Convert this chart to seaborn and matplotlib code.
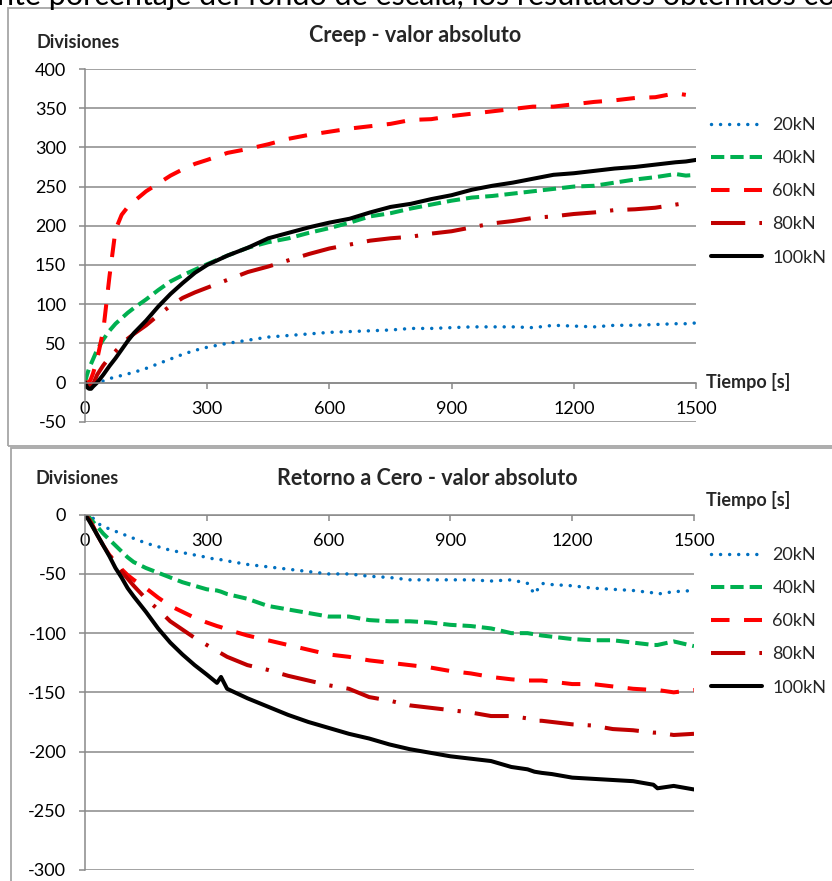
import numpy as np
import pandas as pd
import matplotlib
matplotlib.use("Agg")
import matplotlib.pyplot as plt
import matplotlib.patches as patches
import seaborn as sns

sns.set_style("white")
plt.rcParams['font.family'] = ['Lato', 'DejaVu Sans']

# ---------------- data ----------------
labels = ["20kN", "40kN", "60kN", "80kN", "100kN"]
colors = ["#0070C0", "#00B050", "#FF0000", "#C00000", "#000000"]

t_creep = [0, 5, 10, 15, 20, 30, 45, 60, 75, 90, 105, 120, 150, 180, 210, 240, 270, 300,
           350, 400, 450, 500, 550, 600, 650, 700, 750, 800, 850, 900, 950, 1000, 1050,
           1100, 1150, 1200, 1250, 1300, 1350, 1400, 1450, 1475, 1500]
creep_20 = [0, 0, 0, 0, 0, 1, 2, 5, 7, 9, 11, 13, 18, 24, 30, 36, 41, 45,
            50, 54, 58, 60, 62, 64, 65, 66, 67, 69, 69, 70, 71, 71, 71,
            70, 73, 72, 71, 73, 73, 74, 75, 75, 76]
creep_40 = [0, 10, 18, 24, 30, 42, 55, 66, 75, 82, 89, 95, 106, 118, 129, 137, 144, 151,
            162, 172, 179, 184, 191, 197, 204, 212, 216, 222, 227, 232, 236, 238, 241,
            244, 247, 250, 251, 255, 259, 262, 266, 264, 265]
creep_60 = [0, 0, 0, 5, 12, 30, 67, 135, 195, 214, 224, 231, 244, 254, 264, 272, 279, 284,
            293, 298, 304, 311, 316, 320, 324, 327, 330, 335, 336, 340, 343, 346, 349,
            352, 352, 355, 358, 360, 363, 364, 369, 367, np.nan]
creep_80 = [0, -2, -3, -3, -2, 10, 22, 32, 40, 48, 56, 62, 73, 86, 98, 108, 115, 121,
            131, 141, 148, 156, 164, 171, 176, 181, 184, 186, 190, 193, 198, 203, 206,
            210, 212, 215, 217, 220, 221, 223, 227, 229, np.nan]
creep_100 = [0, -6, -8, -8, -5, 0, 10, 21, 31, 42, 53, 63, 79, 97, 113, 127, 140, 150,
             162, 172, 184, 191, 198, 204, 209, 217, 224, 228, 234, 239, 246, 251, 255,
             260, 265, 267, 270, 273, 275, 278, 281, 282, 284]

t_ret = [0, 10, 20, 30, 45, 60, 75, 90, 105, 120, 150, 180, 210, 240, 270, 300, 325, 335,
         350, 400, 450, 500, 550, 600, 650, 700, 750, 800, 850, 900, 950, 1000, 1050,
         1090, 1107, 1125, 1150, 1200, 1250, 1300, 1350, 1400, 1410, 1450, 1500]
ret_20 = [0, -1, -3, -7, -10, -12, -14, -16, -18, -20, -24, -27, -30, -32, -34, -36, -38, -38,
          -39, -42, -44, -46, -48, -50, -50, -52, -53, -55, -55, -55, -55, -56, -55,
          -58, -67, -58, -59, -60, -62, -63, -64, -66, -67, -65, -64]
ret_40 = [0, -2, -6, -10, -16, -21, -26, -31, -36, -40, -45, -49, -53, -57, -60, -63, -64, -65,
          -67, -71, -77, -80, -83, -86, -86, -89, -90, -90, -91, -93, -94, -96, -100,
          -100, -101, -102, -103, -105, -106, -106, -108, -110, -110, -107, -111]
ret_60 = [0, -4, -10, -17, -26, -34, -40, -46, -51, -55, -62, -70, -77, -82, -87, -91, -94, -95,
          -97, -102, -106, -110, -114, -118, -120, -123, -125, -127, -129, -132, -134, -137, -139,
          -140, -140, -140, -141, -143, -143, -145, -147, -148, -148, -150, -148]
ret_80 = [0, -4, -10, -17, -26, -34, -41, -48, -54, -60, -71, -80, -90, -97, -104, -110, -115, -117,
          -120, -127, -131, -136, -140, -144, -147, -154, -157, -161, -163, -165, -167, -170, -170,
          -172, -174, -174, -175, -177, -178, -181, -182, -184, -184, -186, -185]
ret_100 = [0, -5, -11, -17, -26, -35, -45, -53, -62, -69, -82, -96, -108, -118, -127, -135, -142, -137,
           -147, -155, -162, -169, -175, -180, -185, -189, -194, -198, -201, -204, -206, -208, -213,
           -215, -217, -218, -219, -222, -223, -224, -225, -228, -231, -229, -232]

x_ticks = [0, 300, 600, 900, 1200, 1500]

# ---------------- styles ----------------
W, H = 832, 881
LW = 2.9
styles = [
    dict(linestyle=(0, (0.01, 2.6)), dash_capstyle="round", linewidth=2.5),
    dict(linestyle=(0, (3.3, 1.5)), dash_capstyle="butt", linewidth=LW),
    dict(linestyle=(0, (4.6, 3.6)), dash_capstyle="butt", linewidth=LW),
    dict(linestyle=(0, (8.5, 3.5, 0.8, 3.5)), dash_capstyle="butt", linewidth=LW),
    dict(linestyle="-", linewidth=LW, solid_capstyle="round"),
]

fig = plt.figure(figsize=(W / 100, H / 100), dpi=100)

def fx(px):
    return px / W

def fy(py):
    return 1 - py / H

GRID = "#898989"

def style_axes(ax, ylo, yhi):
    ax.set_xlim(0, 1500)
    ax.set_ylim(ylo, yhi)
    ax.set_yticks(np.arange(ylo, yhi + 1, 50))
    ax.set_xticks(x_ticks)
    ax.set_xticklabels([str(v) for v in x_ticks])
    ax.set_yticklabels([str(int(v)) for v in np.arange(ylo, yhi + 1, 50)])
    ax.grid(axis="y", color=GRID, linewidth=1.1)
    ax.grid(axis="x", visible=False)
    ax.set_axisbelow(True)
    for s in ["top", "right"]:
        ax.spines[s].set_visible(False)
    ax.spines["left"].set_color(GRID)
    ax.spines["left"].set_linewidth(1.1)
    ax.spines["bottom"].set_position(("data", 0))
    ax.spines["bottom"].set_color(GRID)
    ax.spines["bottom"].set_linewidth(1.1)
    ax.tick_params(axis="y", direction="out", length=4.5, width=1.1, color=GRID,
                   pad=9, labelsize=13, labelcolor="black", left=True)
    ax.tick_params(axis="x", direction="out", length=4, width=1.1, color=GRID,
                   pad=9, labelsize=13, labelcolor="black", bottom=True)
    ax.set_xlabel("")
    ax.set_ylabel("")
    ax.patch.set_alpha(0)

def draw(ax, t, series):
    for vals, c, st in zip(series, colors, styles):
        df = pd.DataFrame({"t": t, "v": vals}).dropna()
        sns.lineplot(data=df, x="t", y="v", ax=ax, color=c, legend=False,
                     errorbar=None, sort=True, **st)

def add_legend(ax, top_py):
    handles = ax.lines[:5]
    ax.legend(handles, labels, loc="upper left",
              bbox_to_anchor=(fx(711), fy(top_py)), bbox_transform=fig.transFigure,
              frameon=False, fontsize=13, handlelength=2.85, handletextpad=0.55,
              labelspacing=0.95, borderpad=0, borderaxespad=0)

# frames
fig.patches.append(patches.Rectangle((fx(8), fy(446)), fx(840) - fx(8), fy(8) - fy(446),
                                     transform=fig.transFigure, fill=False,
                                     edgecolor="#A6A6A6", linewidth=1.3))
fig.patches.append(patches.Rectangle((fx(11), fy(890)), fx(840) - fx(11), fy(448) - fy(890),
                                     transform=fig.transFigure, fill=False,
                                     edgecolor="#A6A6A6", linewidth=1.3))

fig.text(fx(-3), fy(5), "nte porcentaje del fondo de escala, los resultados obtenidos con",
         fontsize=22, ha="left", va="baseline", color="black")

# ----- top chart -----
ax1 = fig.add_axes([fx(85), fy(421.7), fx(696) - fx(85), fy(69) - fy(421.7)])
draw(ax1, t_creep, [creep_20, creep_40, creep_60, creep_80, creep_100])
style_axes(ax1, -50, 400)
add_legend(ax1, 117)
fig.text(fx(78), fy(43), "Divisiones", fontsize=13, fontweight="bold", ha="center", va="center")
fig.text(fx(415), fy(36), "Creep - valor absoluto", fontsize=15.5, fontweight="bold",
         ha="center", va="center")
fig.text(fx(748), fy(382), "Tiempo [s]", fontsize=13, fontweight="bold", ha="center", va="center")

# ----- bottom chart -----
ax2 = fig.add_axes([fx(85), fy(870), fx(694) - fx(85), fy(514.7) - fy(870)])
draw(ax2, t_ret, [ret_20, ret_40, ret_60, ret_80, ret_100])
style_axes(ax2, -300, 0)
add_legend(ax2, 547)
fig.text(fx(77), fy(479), "Divisiones", fontsize=13, fontweight="bold", ha="center", va="center")
fig.text(fx(427), fy(478), "Retorno a Cero - valor absoluto", fontsize=15.5, fontweight="bold",
         ha="center", va="center")
fig.text(fx(748), fy(500), "Tiempo [s]", fontsize=13, fontweight="bold", ha="center", va="center")

fig.savefig("out.png", dpi=100)
